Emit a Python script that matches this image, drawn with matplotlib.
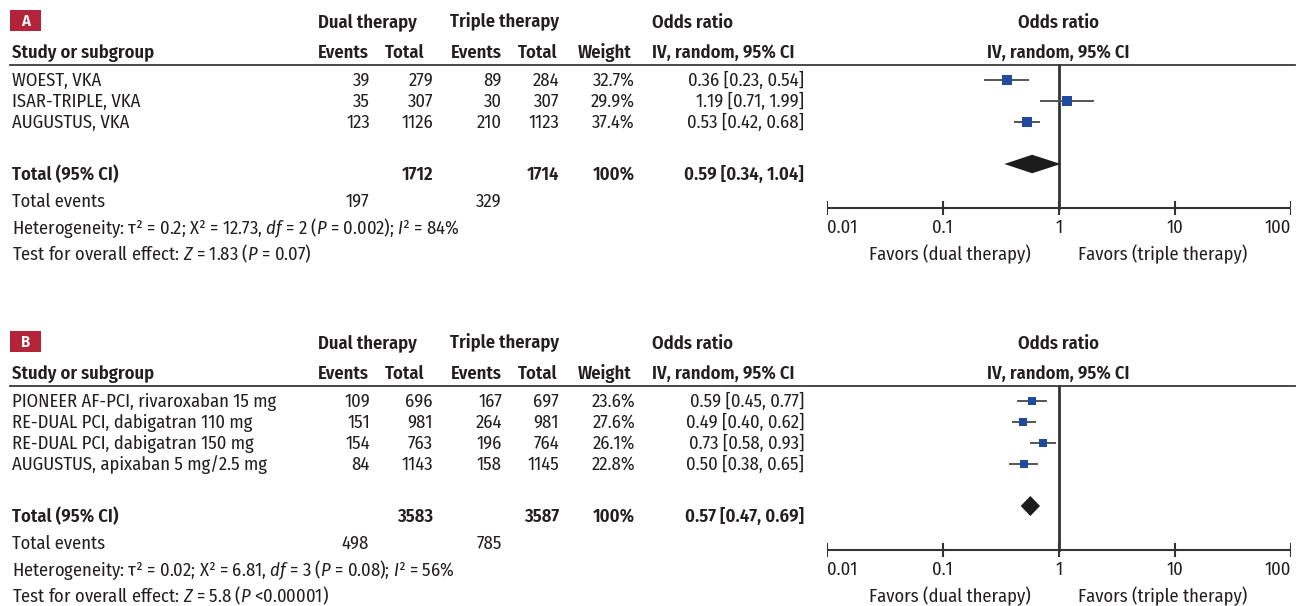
import matplotlib
matplotlib.use("Agg")
import matplotlib.pyplot as plt
from matplotlib import font_manager as fm
from matplotlib.patches import Rectangle

# condensed humanist sans for the table text
installed = {f.name for f in fm.fontManager.ttflist}
FONT = next((n for n in ['Fira Sans Condensed', 'Roboto Condensed', 'PT Sans Narrow',
                         'IBM Plex Sans Condensed'] if n in installed), 'DejaVu Sans')
plt.rcParams['font.family'] = [FONT, 'DejaVu Sans']
plt.rcParams['mathtext.fontset'] = 'custom'
plt.rcParams['mathtext.rm'] = FONT
plt.rcParams['mathtext.it'] = FONT + ':italic'
plt.rcParams['mathtext.bf'] = FONT + ':bold'

# Panel A - VKA based trials
a_studies = ["WOEST, VKA", "ISAR-TRIPLE, VKA", "AUGUSTUS, VKA"]
a_dual_events = [39, 35, 123]
a_dual_total = [279, 307, 1126]
a_triple_events = [89, 30, 210]
a_triple_total = [284, 307, 1123]
a_weight = [32.7, 29.9, 37.4]
a_or = [0.36, 1.19, 0.53]
a_lo = [0.23, 0.71, 0.42]
a_hi = [0.54, 1.99, 0.68]
a_pooled = [0.59, 0.34, 1.04]
a_het = "Heterogeneity: τ² = 0.2; X² = 12.73, $df$ = 2 ($P$ = 0.002); $I$² = 84%"
a_test = "Test for overall effect: $Z$ = 1.83 ($P$ = 0.07)"

# Panel B - NOAC based trials
b_studies = ["PIONEER AF-PCI, rivaroxaban 15 mg", "RE-DUAL PCI, dabigatran 110 mg",
             "RE-DUAL PCI, dabigatran 150 mg", "AUGUSTUS, apixaban 5 mg/2.5 mg"]
b_dual_events = [109, 151, 154, 84]
b_dual_total = [696, 981, 763, 1143]
b_triple_events = [167, 264, 196, 158]
b_triple_total = [697, 981, 764, 1145]
b_weight = [23.6, 27.6, 26.1, 22.8]
b_or = [0.59, 0.49, 0.73, 0.50]
b_lo = [0.45, 0.40, 0.58, 0.38]
b_hi = [0.77, 0.62, 0.93, 0.65]
b_pooled = [0.57, 0.47, 0.69]
b_het = "Heterogeneity: τ² = 0.02; X² = 6.81, $df$ = 3 ($P$ = 0.08); $I$² = 56%"
b_test = "Test for overall effect: $Z$ = 5.8 ($P$ <0.00001)"

ticks = [0.01, 0.1, 1, 10, 100]
tick_labels = ["0.01", "0.1", "1", "10", "100"]

TXT = '#231f20'
FS = 13.35
SQ = '#204a9b'

fig = plt.figure(figsize=(12.99, 6.06), dpi=100)
tax = fig.add_axes([0, 0, 1, 1])
tax.set_xlim(0, 1299)
tax.set_ylim(606, 0)
tax.axis('off')

fax = fig.add_axes([826.7 / 1299, 0, 464 / 1299, 1])
fax.set_xscale('log')
fax.set_xlim(0.01, 100)
fax.set_ylim(606, 0)
fax.axis('off')
fax.patch.set_alpha(0)


def t(x, y, s, ha='left', bold=False, ax=None, **kw):
    # y is the visual middle of the capitals; place the baseline below it
    (ax or tax).text(x, y + 6, s, ha=ha, va='baseline', fontsize=FS, color=TXT,
                     fontweight='semibold' if bold else 'normal', clip_on=False, **kw)


def draw_panel(base, tag, studies, de, dt, te, tt, w, orr, lo, hi, pooled,
               het, test, sq_k, dia_h):
    # tag box and headers
    tax.add_patch(Rectangle((10, base + 10), 31, 21, color='#b3243a', lw=0))
    tax.text(25.5, base + 21, tag, ha='center', va='center', color='white',
             fontsize=12, fontweight='semibold')
    h1, h2 = base + 22, base + 52
    t(318, h1, "Dual therapy", bold=True)
    t(450, h1, "Triple therapy", bold=True)
    t(652, h1, "Odds ratio", bold=True)
    t(1, h1, "Odds ratio", ha='center', bold=True, ax=fax)
    t(12, h2, "Study or subgroup", bold=True)
    t(369, h2, "Events", ha='right', bold=True)
    t(425, h2, "Total", ha='right', bold=True)
    t(502, h2, "Events", ha='right', bold=True)
    t(558, h2, "Total", ha='right', bold=True)
    t(632, h2, "Weight", ha='right', bold=True)
    t(652, h2, "IV, random, 95% CI", bold=True)
    t(1, h2, "IV, random, 95% CI", ha='center', bold=True, ax=fax)
    tax.plot([10, 1295], [base + 65, base + 65], color='#3a3a3a', lw=1.3)

    # study rows
    for i, name in enumerate(studies):
        y = base + 80 + 21 * i
        t(12, y, name)
        t(370, y, str(de[i]), ha='right')
        t(433, y, str(dt[i]), ha='right')
        t(502, y, str(te[i]), ha='right')
        t(559, y, str(tt[i]), ha='right')
        t(635, y, f"{w[i]:.1f}%", ha='right')
        t(804, y, f"{orr[i]:.2f} [{lo[i]:.2f}, {hi[i]:.2f}]", ha='right')
        fax.plot([lo[i], hi[i]], [y, y], color='#555555', lw=1.4, zorder=2)
        side = sq_k * w[i] ** 0.5 * 0.72
        fax.scatter([orr[i]], [y], marker='s', s=side ** 2, color=SQ, lw=0, zorder=3)

    # pooled row
    ty = base + 80 + 21 * (len(studies) - 1) + 52
    t(12, ty, "Total (95% CI)", bold=True)
    t(433, ty, str(sum(dt)), ha='right', bold=True)
    t(559, ty, str(sum(tt)), ha='right', bold=True)
    t(635, ty, f"{sum(w):.0f}%", ha='right', bold=True)
    t(804, ty, f"{pooled[0]:.2f} [{pooled[1]:.2f}, {pooled[2]:.2f}]", ha='right', bold=True)
    dy = ty - 10
    fax.fill([pooled[1], pooled[0], pooled[2], pooled[0]],
             [dy, dy - dia_h / 2, dy, dy + dia_h / 2], color='#1c1c1c', lw=0, zorder=3)

    t(12, ty + 27, "Total events")
    t(369, ty + 27, str(sum(de)), ha='right')
    t(502, ty + 27, str(sum(te)), ha='right')
    t(12, ty + 54, het)
    t(12, ty + 80, test)

    # log axis with reference line at OR = 1
    ay = ty + 33.5
    fax.plot([ticks[0], ticks[-1]], [ay, ay], color='#333333', lw=1.5)
    for k in ticks:
        fax.plot([k, k], [ay - 6, ay + 6], color='#333333', lw=1.5)
    fax.plot([1, 1], [base + 65, ay], color='#333333', lw=2.0, zorder=1)
    for k, lab in zip(ticks, tick_labels):
        ha = 'left' if k == ticks[0] else ('right' if k == ticks[-1] else 'center')
        t(k, ty + 53, lab, ha=ha, ax=fax)
    t(1031, ty + 80, "Favors (dual therapy)", ha='right')
    t(1078, ty + 80, "Favors (triple therapy)")


draw_panel(0, "A", a_studies, a_dual_events, a_dual_total, a_triple_events,
           a_triple_total, a_weight, a_or, a_lo, a_hi, a_pooled, a_het, a_test,
           sq_k=1.77, dia_h=18.5)
draw_panel(321, "B", b_studies, b_dual_events, b_dual_total, b_triple_events,
           b_triple_total, b_weight, b_or, b_lo, b_hi, b_pooled, b_het, b_test,
           sq_k=1.65, dia_h=20)

fig.savefig("out.png", dpi=100)
